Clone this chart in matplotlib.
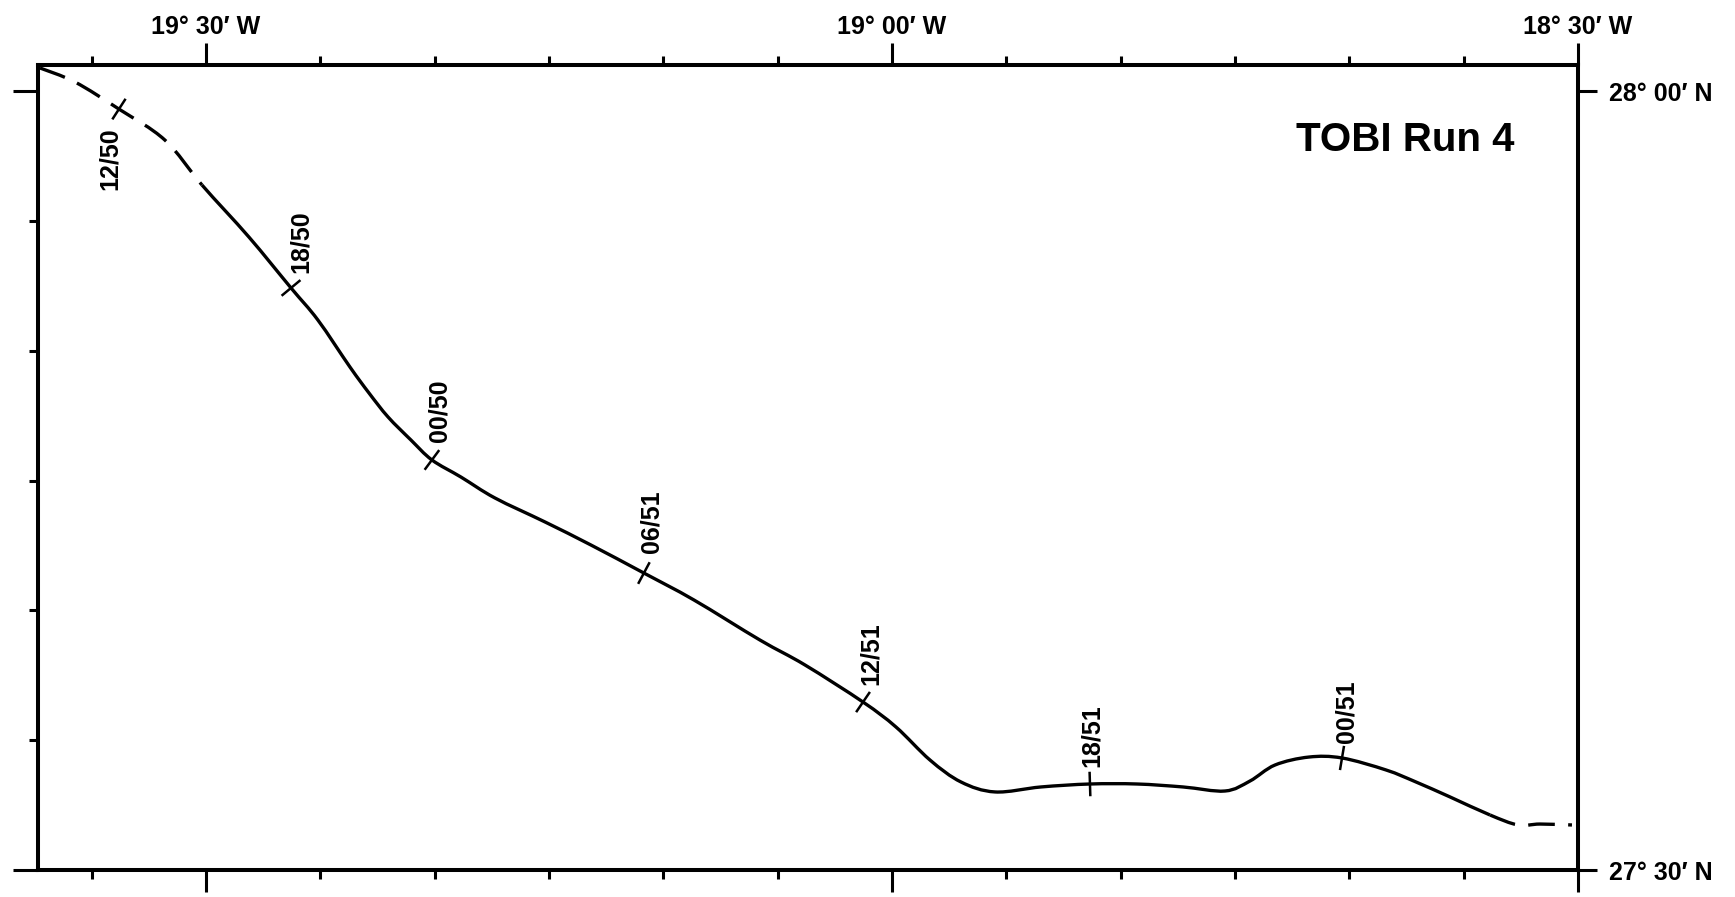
import numpy as np
import matplotlib
matplotlib.use("Agg")
import matplotlib.pyplot as plt
from matplotlib.path import Path
from matplotlib.patches import PathPatch

# Ship track, TOBI run 4 (decimal degrees, west negative)
# dashed start of the run
HEAD_LON = [-19.6210, -19.5955, -19.5634, -19.5299, -19.5029]
HEAD_LAT = [28.0148, 28.0058, 27.9884, 27.9685, 27.9397]

# solid part
TRACK_LON = [-19.5029, -19.4687, -19.4380, -19.4184, -19.3950, -19.3812,
             -19.3673, -19.3506, -19.3353, -19.3141, -19.2894, -19.2529,
             -19.2194, -19.1808, -19.1443, -19.0962, -19.0634, -19.0211,
             -18.9971, -18.9723, -18.9497, -18.9249, -18.8914, -18.8557,
             -18.8214, -18.7879, -18.7573, -18.7391, -18.7208, -18.6961,
             -18.6720, -18.6399, -18.6181, -18.5933, -18.5641]
TRACK_LAT = [27.9397, 27.9063, 27.8736, 27.8530, 27.8228, 27.8062,
             27.7908, 27.7760, 27.7632, 27.7522, 27.7388, 27.7234,
             27.7086, 27.6906, 27.6733, 27.6476, 27.6316, 27.6078,
             27.5918, 27.5706, 27.5565, 27.5501, 27.5533, 27.5552,
             27.5552, 27.5533, 27.5507, 27.5571, 27.5674, 27.5725,
             27.5719, 27.5642, 27.5565, 27.5469, 27.5353]

# dashed end of the run
TAIL_LON = [-18.5641, -18.5437, -18.5277, -18.5044]
TAIL_LAT = [27.5353, 27.5289, 27.5295, 27.5289]

# time marks (hour/day)
TIME_LABELS = ["12/50", "18/50", "00/50", "06/51", "12/51", "18/51", "00/51"]
TIME_LON = [-19.5634, -19.4380, -19.3353, -19.1808, -19.0211, -18.8557, -18.6720]
TIME_LAT = [27.9884, 27.8736, 27.7632, 27.6906, 27.6078, 27.5552, 27.5719]

# graticule
LON_MAJOR = [-19.5, -19.0, -18.5]
LON_LABELS = ["19° 30′ W", "19° 00′ W", "18° 30′ W"]
LON_MINOR = [-19.5833, -19.4167, -19.3333, -19.25, -19.1667, -19.0833,
             -18.9167, -18.8333, -18.75, -18.6667, -18.5833]
LAT_MAJOR = [27.5, 28.0]
LAT_LABELS = ["27° 30′ N", "28° 00′ N"]
LAT_MINOR = [27.5833, 27.6667, 27.75, 27.8333, 27.9167]

XLIM = (-19.6224, -18.5)
YLIM = (27.5, 28.0167)

plt.rcParams["font.family"] = ["Liberation Sans", "DejaVu Sans"]
plt.rcParams["font.weight"] = "bold"

# label offsets from the time mark, in pixels
LABEL_OFFSETS = [(-9, -18, "top"), (10, 15, "bottom"), (8, 18, "bottom"),
                 (8, 20, "bottom"), (8, 17, "bottom"), (2, 17, "bottom"),
                 (4, 15, "bottom")]


def smooth_path(P, i0, i1):
    # Catmull-Rom through the read points, drawn as cubic Bezier pieces
    n = len(P)
    verts = [P[i0]]
    codes = [Path.MOVETO]
    for k in range(i0, i1):
        p0 = P[max(k - 1, 0)]
        p1, p2 = P[k], P[k + 1]
        p3 = P[min(k + 2, n - 1)]
        verts += [p1 + (p2 - p0) / 6, p2 - (p3 - p1) / 6, p2]
        codes += [Path.CURVE4] * 3
    return Path(verts, codes)


def main():
    fig = plt.figure(figsize=(17.35, 8.97), dpi=100, facecolor="white")
    ax = fig.add_axes([38 / 1735, 27 / 897, 1540 / 1735, 805 / 897])
    ax.set_xlim(*XLIM)
    ax.set_ylim(*YLIM)

    for s in ax.spines.values():
        s.set_linewidth(2.9)
        s.set_color("black")

    # ticks
    ax.set_xticks(LON_MAJOR)
    ax.set_xticks(LON_MINOR, minor=True)
    ax.set_yticks(LAT_MAJOR)
    ax.set_yticks(LAT_MINOR, minor=True)
    ax.tick_params(axis="x", which="major", direction="out", length=16, width=2.2,
                   top=True, bottom=True, labeltop=True, labelbottom=False,
                   labelsize=18, pad=3)
    ax.tick_params(axis="x", which="minor", direction="out", length=6.5, width=2.2,
                   top=True, bottom=True)
    ax.set_xticklabels(LON_LABELS)
    ax.tick_params(axis="y", which="major", direction="out", length=18, width=2.2,
                   left=True, right=False, labelleft=False, labelright=False)
    ax.tick_params(axis="y", which="minor", direction="out", length=6.5, width=2.2,
                   left=True, right=True)

    # right axis labels with shorter ticks
    axr = ax.twinx()
    axr.set_ylim(*YLIM)
    axr.set_yticks(LAT_MAJOR)
    axr.set_yticklabels(LAT_LABELS)
    axr.tick_params(axis="y", direction="out", length=14, width=2.2,
                    labelsize=18, pad=8)
    for s in axr.spines.values():
        s.set_visible(False)

    # track
    all_lon = np.array(HEAD_LON + TRACK_LON[1:] + TAIL_LON[1:])
    all_lat = np.array(HEAD_LAT + TRACK_LAT[1:] + TAIL_LAT[1:])
    P = np.column_stack([all_lon, all_lat])
    n_head = len(HEAD_LON) - 1
    n_track = len(TRACK_LON) - 1
    pieces = [(0, n_head, (0, (8, 4))),
              (n_head, n_head + n_track, "solid"),
              (n_head + n_track, len(P) - 1, (0, (8, 4)))]
    for i0, i1, ls in pieces:
        ax.add_patch(PathPatch(smooth_path(P, i0, i1), fill=False, edgecolor="black",
                               lw=2.4, linestyle=ls, capstyle="butt", joinstyle="round"))

    # time marks perpendicular to the track
    pts = ax.transData.transform(P)
    inv = ax.transData.inverted()
    half = 11
    for lab, lon, lat, (dx, dy, va) in zip(TIME_LABELS, TIME_LON, TIME_LAT, LABEL_OFFSETS):
        p = ax.transData.transform((lon, lat))
        i = int(np.argmin(np.hypot(pts[:, 0] - p[0], pts[:, 1] - p[1])))
        a = pts[max(i - 1, 0)]
        b = pts[min(i + 1, len(pts) - 1)]
        th = np.arctan2(b[1] - a[1], b[0] - a[0])
        nx, ny = -np.sin(th), np.cos(th)
        e = inv.transform([[p[0] - half * nx, p[1] - half * ny],
                           [p[0] + half * nx, p[1] + half * ny]])
        ax.plot(e[:, 0], e[:, 1], color="black", lw=1.8)
        ax.annotate(lab, (lon, lat), xytext=(dx, dy), textcoords="offset pixels",
                    rotation=90, ha="center", va=va, fontsize=18)

    ax.text(0.8877, 0.9068, "TOBI Run 4", transform=ax.transAxes,
            ha="center", va="center", fontsize=29)

    fig.savefig("out.png", dpi=100, facecolor="white")
    plt.close(fig)


if __name__ == "__main__":
    main()
